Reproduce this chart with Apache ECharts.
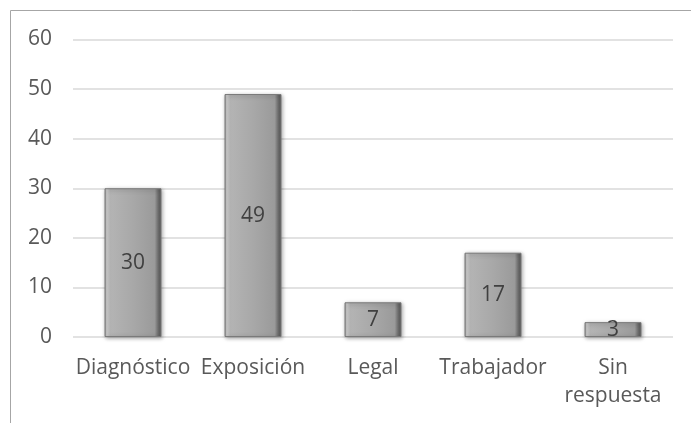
<!DOCTYPE html>
<html>
<head>
<meta charset="utf-8">
<script src="https://cdn.jsdelivr.net/npm/echarts@6/dist/echarts.min.js"></script>
<style>
  html, body { margin: 0; padding: 0; background: #fff; }
  #chart { width: 691px; height: 423px; }
</style>
</head>
<body>
<div id="chart"></div>
<script>
  // datos del gráfico
  const categories = ['Diagnóstico', 'Exposición', 'Legal', 'Trabajador', 'Sin respuesta'];
  const values = [30, 49, 7, 17, 3];
  const yTicks = { min: 0, max: 60, interval: 10 };

  const textColor = '#595959';
  const font = 'Open Sans';

  const chart = echarts.init(document.getElementById('chart'));

  const barColor = new echarts.graphic.LinearGradient(0, 0, 1, 0, [
    { offset: 0, color: '#8a8a8a' },
    { offset: 0.04, color: '#d0d0d0' },
    { offset: 0.1, color: '#b4b4b4' },
    { offset: 0.5, color: '#a8a8a8' },
    { offset: 0.88, color: '#9a9a9a' },
    { offset: 0.94, color: '#6e6e6e' },
    { offset: 1, color: '#555555' }
  ]);

  const option = {
    animation: false,
    textStyle: { fontFamily: font },
    graphic: [{
      type: 'rect',
      shape: { x: 10.5, y: 10.5, width: 700, height: 440 },
      style: { fill: 'none', stroke: '#a6a6a6', lineWidth: 1 },
      silent: true
    }],
    grid: {
      left: 73,
      right: 18,
      top: 39.5,
      bottom: 86
    },
    xAxis: {
      type: 'category',
      data: categories,
      axisLine: { show: false },
      axisTick: { show: false },
      axisLabel: {
        interval: 0,
        color: textColor,
        fontSize: 21,
        fontFamily: font,
        margin: 17,
        lineHeight: 28,
        formatter: (v) => v.replace(' ', '\n')
      }
    },
    yAxis: {
      type: 'value',
      min: yTicks.min,
      max: yTicks.max,
      interval: yTicks.interval,
      axisLine: { show: false },
      axisTick: { show: false },
      axisLabel: {
        color: textColor,
        fontSize: 21,
        fontFamily: font,
        margin: 21
      },
      splitLine: {
        lineStyle: { color: '#d9d9d9', width: 1.5 }
      }
    },
    series: [{
      type: 'bar',
      data: values,
      barWidth: 57,
      itemStyle: {
        color: barColor,
        borderColor: '#7a7a7a',
        borderWidth: 1,
        shadowColor: 'rgba(0,0,0,0.35)',
        shadowBlur: 4,
        shadowOffsetX: 1,
        shadowOffsetY: 1
      },
      label: {
        show: true,
        position: 'inside',
        color: '#404040',
        fontSize: 21,
        fontFamily: font
      }
    }]
  };

  chart.setOption(option);
</script>
</body>
</html>
